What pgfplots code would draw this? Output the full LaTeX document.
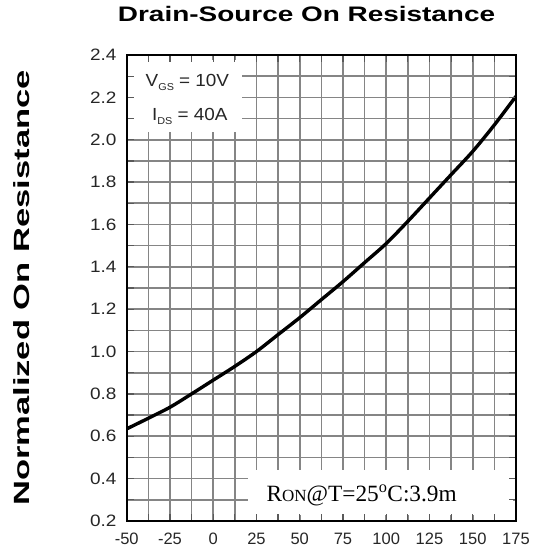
\documentclass[border=0pt]{standalone}
\usepackage{fontspec}
\setmainfont{Liberation Sans}
\newfontfamily\timesfont{Liberation Serif}
\usepackage{graphicx}
\usepackage{pgfplots}
\pgfplotsset{compat=1.18}

\begin{document}
\begin{tikzpicture}
\path (-126.7pt,-34pt) rectangle (406.3pt,521pt);
% grid, data and boxes
\begin{axis}[
  at={(0pt,0pt)}, anchor=south west,
  scale only axis, width=389.3pt, height=466pt,
  xmin=-50, xmax=175, ymin=0.2, ymax=2.4,
  xtick={-50,-37.5,-25,-12.5,0,12.5,25,37.5,50,62.5,75,87.5,100,112.5,125,137.5,150,162.5,175},
  ytick={0.2,0.3,0.4,0.5,0.6,0.7,0.8,0.9,1.0,1.1,1.2,1.3,1.4,1.5,1.6,1.7,1.8,1.9,2.0,2.1,2.2,2.3,2.4},
  xticklabels={}, yticklabels={},
  major tick length=0pt,
  grid=major, major grid style={draw=black!48, line width=1.6pt},
  axis line style={draw=none},
  clip=true,
]
\addplot[black, line width=3.4pt, smooth] coordinates {
(-50,0.635) (-37.5,0.685) (-25,0.737) (-12.5,0.80) (0,0.865) (12.5,0.93)
(25,1.0) (37.5,1.08) (50,1.16) (62.5,1.245) (75,1.33) (87.5,1.42)
(100,1.51) (112.5,1.615) (125,1.725) (137.5,1.835) (150,1.945) (162.5,2.07) (175,2.205)
};
\fill[white] (axis cs:-50,2.036) rectangle (axis cs:16.5,2.376);
\fill[white] (axis cs:20.1,0.228) rectangle (axis cs:173.3,0.441);
\node[anchor=base, font=\fontsize{17.5}{17.5}\selectfont, text=black!85] at (axis cs:-14.9,2.25)
  {\scalebox{1.08}[1]{V\raisebox{-4pt}{\fontsize{10}{10}\selectfont GS} = 10V}};
\node[anchor=base, font=\fontsize{17.5}{17.5}\selectfont, text=black!85] at (axis cs:-13.5,2.093)
  {\scalebox{1.08}[1]{I\raisebox{-4pt}{\fontsize{10}{10}\selectfont DS} = 40A}};
\node[anchor=base, font=\timesfont\fontsize{23.3}{23.3}\selectfont] at (axis cs:85.8,0.291)
  {R{\fontsize{17}{17}\selectfont ON}@T=25\textsuperscript{o}C:3.9m};
\end{axis}
% frame, ticks, labels
\begin{axis}[
  at={(0pt,0pt)}, anchor=south west,
  scale only axis, width=389.3pt, height=466pt,
  xmin=-50, xmax=175, ymin=0.2, ymax=2.4,
  xtick={-50,-25,0,25,50,75,100,125,150,175},
  ytick={0.2,0.4,0.6,0.8,1.0,1.2,1.4,1.6,1.8,2.0,2.2,2.4},
  minor tick num=1,
  tick align=inside,
  major tick length=7pt, minor tick length=7pt,
  every tick/.style={draw=black!65, line width=1.2pt},
  axis line style={draw=black, line width=1.8pt},
  tick label style={font=\fontsize{16.5}{16.5}\selectfont, text=black!85, inner sep=0pt},
  /pgf/number format/assume math mode=true,
  yticklabel={\scalebox{1.15}[1]{\pgfmathprintnumber[fixed,fixed zerofill,precision=1]{\tick}}},
  yticklabel style={anchor=east, xshift=-10pt},
  xticklabel style={anchor=center, yshift=-18pt},
  title={\scalebox{1.33}[1]{Drain-Source On Resistance}},
  title style={font=\bfseries\fontsize{21}{21}\selectfont, at={(axis description cs:0.462,1.0751)}, anchor=center, yshift=0pt},
  ylabel={\scalebox{1.57}[1]{Normalized On Resistance}},
  ylabel style={font=\bfseries\fontsize{22}{22}\selectfont, at={(axis description cs:-0.269,0.5)}, anchor=center},
]
\addplot[draw=none] coordinates {(-50,0.2)};
\end{axis}
\end{tikzpicture}
\end{document}
